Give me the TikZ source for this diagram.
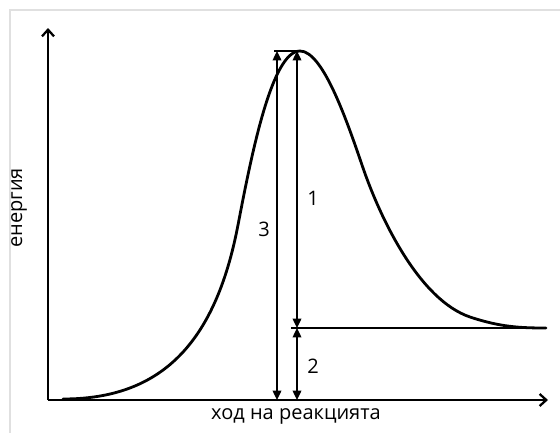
\documentclass[tikz,border=0pt]{standalone}
\usepackage{fontspec}
\setmainfont{Open Sans}
\usetikzlibrary{arrows.meta}

\begin{document}
\begin{tikzpicture}[
  x=0.75pt, y=-0.75pt,
  axis/.style={-{Straight Barb[length=5pt,width=9pt]}, line width=1.7pt},
  dim/.style={{Triangle[length=7pt,width=6.5pt]}-{Triangle[length=7pt,width=6.5pt]}, line width=1pt},
  curve/.style={line width=2.1pt, line cap=round},
  lab/.style={font=\fontsize{15}{18}\selectfont, inner sep=1pt}
]
\useasboundingbox (0,0) rectangle (560,432);
\draw[black!12, line width=1.2pt] (10,440) -- (10,10) -- (570,10);

%% axes
\coordinate (o) at (48,400);
\coordinate (ytop) at (48,28);
\coordinate (xend) at (548,400);
\draw[axis] (o) -- (ytop);
\draw[axis] (o) -- (xend);
\node[lab, rotate=90] (ylab) at (19,208) {енергия};
\node[lab] (xlab) at (296,416) {ход на реакцията};

%% energy curve
\draw[curve] (63,399) .. controls (160,399) and (215,345) .. (238,225)
  .. controls (251.8,153) and (272,51) .. (300,51)
  .. controls (322,51) and (345,115) .. (362,165)
  .. controls (381,221) and (420,300) .. (470,317)
  .. controls (500,327) and (520,328) .. (546,328);

%% levels
\coordinate (peak) at (297,51);
\coordinate (pl) at (274,51);
\coordinate (lev) at (297,328);
\coordinate (levl) at (291,328);
\coordinate (levr) at (546,328);
\coordinate (b3) at (277,400);
\coordinate (t3) at (277,51);
\coordinate (b2) at (297,400);
\draw[line width=1pt] (pl) -- (peak);
\draw[line width=1pt] (levl) -- (levr);

%% differences
\draw[dim] (peak) -- (lev);
\draw[dim] (lev) -- (b2);
\draw[dim] (t3) -- (b3);
\node[lab] (n1) at (313,198) {1};
\node[lab] (n2) at (313,366) {2};
\node[lab] (n3) at (264,229) {3};
\end{tikzpicture}
\end{document}
